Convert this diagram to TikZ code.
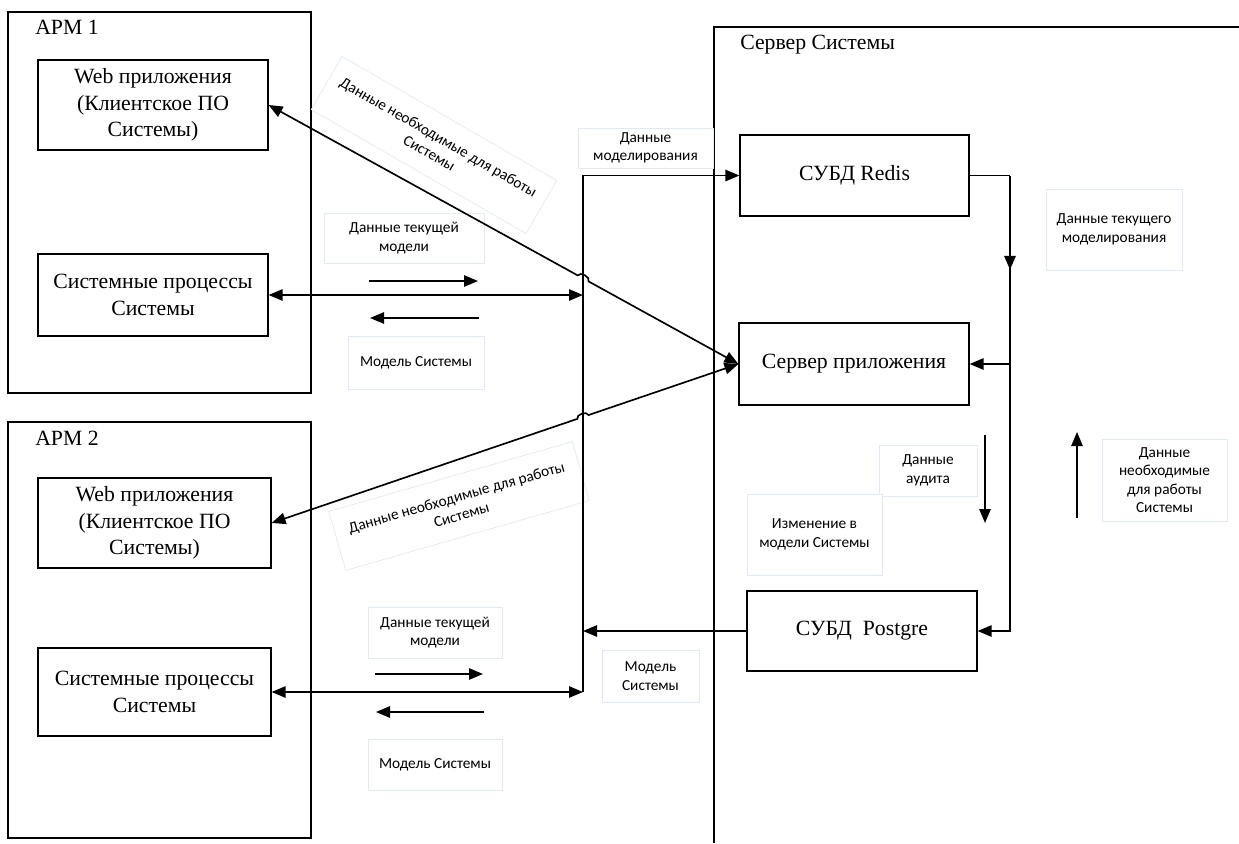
\documentclass[tikz,border=0pt]{standalone}
\usepackage{fontspec}
\setmainfont{Liberation Serif}
\newfontfamily\lblfont{Carlito}
\usetikzlibrary{arrows.meta,calc,decorations.markings}
\begin{document}
\begin{tikzpicture}[x=0.75pt,y=-0.75pt,
  frame/.style={draw,line width=0.9pt},
  box/.style={draw,line width=0.9pt,align=center,inner sep=0pt,font=\fontsize{16.3}{20}\selectfont},
  title/.style={anchor=west,inner sep=0pt,font=\fontsize{16.3}{20}\selectfont},
  lbl/.style={draw={rgb,255:red,226;green,233;blue,246},line width=0.5pt,fill=white,align=center,inner sep=0pt,font=\lblfont\fontsize{11.5}{13.8}\selectfont},
  conn/.style={line width=1.25pt},
  arr/.style={-{Triangle[length=10.5pt,width=8.5pt]}},
  darr/.style={{Triangle[length=10.5pt,width=8.5pt]}-{Triangle[length=10.5pt,width=8.5pt]}}]
\fill[white] (0,0) rectangle (1239,843);
\useasboundingbox (0,0) rectangle (1239,843);

% outer frames
\node[frame,minimum width=227.25pt,minimum height=285.75pt] (apm1) at (159.5,202.5) {};
\node[frame,minimum width=227.25pt,minimum height=312pt] (apm2) at (159.5,630) {};
\coordinate (srvA) at (1239,27);
\coordinate (srvB) at (714,27);
\coordinate (srvC) at (714,843);
\draw[frame] (srvA) -- (srvB) -- (srvC);
\node[title] (t1) at (35,27) {АРМ 1};
\node[title] (t2) at (35,438) {АРМ 2};
\node[title] (t3) at (740,45) {Сервер Системы};

% boxes
\node[box,minimum width=172.5pt,minimum height=67.5pt] (web1) at (153,105) {Web приложения\\(Клиентское ПО\\Системы)};
\node[box,minimum width=172.5pt,minimum height=61.5pt] (sys1) at (153,295) {Системные процессы\\Системы};
\node[box,minimum width=174.75pt,minimum height=67.5pt] (web2) at (154.5,523) {Web приложения\\(Клиентское ПО\\Системы)};
\node[box,minimum width=174.75pt,minimum height=66pt] (sys2) at (154.5,692) {Системные процессы\\Системы};
\node[box,minimum width=171.75pt,minimum height=60.75pt] (redis) at (854.5,175.5) {СУБД Redis};
\node[box,minimum width=172.5pt,minimum height=61.5pt] (app) at (854,364) {Сервер приложения};
\node[box,minimum width=172.5pt,minimum height=60pt] (pg) at (862,631) {СУБД\ \ Postgre};

% labels
\node[lbl,rotate=-30,minimum width=186pt,minimum height=46pt] (rl1) at (434,145) {Данные необходимые для работы\\Системы};
\node[lbl,rotate=16,minimum width=190pt,minimum height=46pt] (rl2) at (459,506) {Данные необходимые для работы\\Системы};
\node[lbl,minimum width=101.25pt,minimum height=30pt] (lm1) at (645.5,148) {Данные\\моделирования};
\node[lbl,minimum width=120pt,minimum height=37.5pt] (lc1) at (404,238) {Данные текущей\\модели};
\node[lbl,minimum width=102pt,minimum height=39.75pt] (lmod1) at (416,363) {Модель Системы};
\node[lbl,minimum width=100.5pt,minimum height=38.25pt] (lc2) at (435,632.5) {Данные текущей\\модели};
\node[lbl,minimum width=100.5pt,minimum height=38.25pt] (lmod2) at (435,764.5) {Модель Системы};
\node[lbl,minimum width=72.75pt,minimum height=39pt] (lmod3) at (650.5,676) {Модель\\Системы};
\node[lbl,minimum width=102pt,minimum height=60.75pt] (lcm) at (1114,229.5) {Данные текущего\\моделирования};
\node[lbl,minimum width=93.75pt,minimum height=61.5pt] (lneed) at (1164.5,480) {Данные\\необходимые\\для работы\\Системы};
\node[lbl,minimum width=73.5pt,minimum height=38.25pt] (laud) at (928,470.5) {Данные\\аудита};
\node[lbl,minimum width=101.25pt,minimum height=60.75pt] (lchg) at (814.5,534.5) {Изменение в\\модели Системы};

% bus
\coordinate (busTop) at (583,175.5);
\coordinate (busBot) at (583,692);
\draw[conn,arr] (busBot) -- (busTop) -- (redis.west);
\draw[conn,darr] (sys1.east) -- (sys1.east -| busTop);
\draw[conn,darr] (sys2.east) -- (sys2.east -| busTop);
\draw[conn,arr] (pg.west) -- (pg.west -| busTop);

% diagonals with hops
\draw[conn,darr] (web1.east) -- ($(web1.east)!0.658!(app.west)$) to[bend left=90] ($(web1.east)!0.681!(app.west)$) -- (app.west);
\draw[conn,darr] (web2.east) -- ($(web2.east)!0.655!(app.west)$) to[bend left=90] ($(web2.east)!0.679!(app.west)$) -- (app.west);

% right side
\coordinate (rj) at (1010,175.5);
\coordinate (rm) at (1010,364);
\draw[conn] (redis.east) -- (rj);
\draw[conn,line width=1.9pt,postaction={decorate},decoration={markings,mark=at position 0.5 with {\arrow{Triangle[length=10.5pt,width=8.5pt]}}}] (rj) -- (rm);
\draw[conn,arr] (rm) -- (app.east);
\draw[conn,arr] (rm) -- (rm |- pg.east) -- (pg.east);

% free arrows
\coordinate (a1s) at (369,281); \coordinate (a1e) at (478,281);
\coordinate (a2s) at (479,318); \coordinate (a2e) at (370,318);
\coordinate (a3s) at (375,674); \coordinate (a3e) at (483,674);
\coordinate (a4s) at (484,712); \coordinate (a4e) at (376,712);
\coordinate (a5s) at (985,435); \coordinate (a5e) at (985,523);
\coordinate (a6s) at (1077,518); \coordinate (a6e) at (1077,432);
\draw[conn,arr] (a1s) -- (a1e);
\draw[conn,arr] (a2s) -- (a2e);
\draw[conn,arr] (a3s) -- (a3e);
\draw[conn,arr] (a4s) -- (a4e);
\draw[conn,arr] (a5s) -- (a5e);
\draw[conn,arr] (a6s) -- (a6e);
\end{tikzpicture}
\end{document}
